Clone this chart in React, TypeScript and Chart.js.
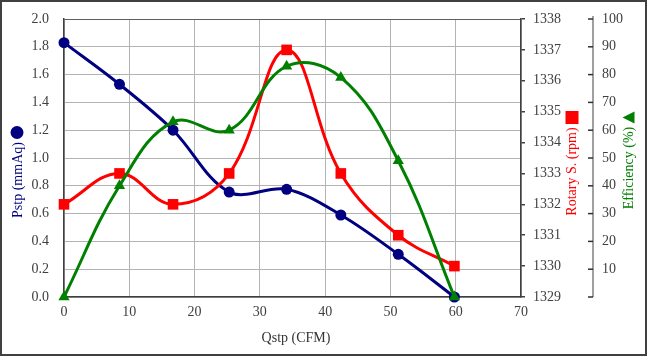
import { useEffect, useRef } from 'react';
import { Chart, registerables } from 'chart.js';

Chart.register(...registerables);

// ---- data ----
const qstp = [0, 8.5, 16.7, 25.3, 34.1, 42.4, 51.2, 59.8];
const pstp = [1.83, 1.53, 1.2, 0.755, 0.775, 0.59, 0.307, 0.0];
const rotary = [1332, 1333, 1332, 1333, 1337, 1333, 1331, 1330];
const efficiency = [0, 40, 63, 60, 83, 79, 49, 0];

const xTitle = 'Qstp (CFM)';
const pstpTitle = 'Pstp (mmAq)';
const rotaryTitle = 'Rotary S. (rpm)';
const effTitle = 'Efficiency (%)';

const FONT = '"Liberation Serif", "Times New Roman", serif';
const TICK_COLOR = '#404040';
const GRID_COLOR = '#b3b3b3';
const AXIS_COLOR = '#404040';
const BLUE = '#000080';
const RED = '#ff0000';
const GREEN = '#008000';

function vText(ctx: CanvasRenderingContext2D, text: string, x: number, cy: number, color: string) {
  ctx.save();
  ctx.translate(x, cy);
  ctx.rotate(-Math.PI / 2);
  ctx.fillStyle = color;
  ctx.textAlign = 'center';
  ctx.textBaseline = 'middle';
  ctx.fillText(text, 0, 0);
  ctx.restore();
}

const decorPlugin = {
  id: 'decor',
  afterDraw(chart: any) {
    const ctx: CanvasRenderingContext2D = chart.ctx;
    const y3 = chart.scales.y3;
    ctx.save();
    // efficiency axis line + inward ticks
    const ax = 593;
    ctx.strokeStyle = '#808080';
    ctx.lineWidth = 1.5;
    ctx.beginPath();
    ctx.moveTo(ax, y3.getPixelForValue(100) - 3);
    ctx.lineTo(ax, y3.getPixelForValue(0));
    ctx.stroke();
    ctx.strokeStyle = '#303030';
    ctx.lineWidth = 1.5;
    y3.ticks.forEach((t: any) => {
      const py = y3.getPixelForValue(t.value);
      ctx.beginPath();
      ctx.moveTo(ax - 5, py);
      ctx.lineTo(ax, py);
      ctx.stroke();
    });

    // titles
    ctx.font = `14px ${FONT}`;
    ctx.fillStyle = '#333333';
    ctx.textAlign = 'center';
    ctx.textBaseline = 'middle';
    ctx.fillText(xTitle, 296, 338);

    vText(ctx, pstpTitle, 18, 180, BLUE);
    ctx.fillStyle = BLUE;
    ctx.beginPath();
    ctx.arc(17, 132.5, 6.5, 0, Math.PI * 2);
    ctx.fill();

    vText(ctx, rotaryTitle, 572, 171.5, RED);
    ctx.fillStyle = RED;
    ctx.fillRect(565.5, 111, 13, 13);

    vText(ctx, effTitle, 629, 168, GREEN);
    ctx.fillStyle = GREEN;
    ctx.beginPath();
    ctx.moveTo(622.5, 117.5);
    ctx.lineTo(634.5, 111.5);
    ctx.lineTo(634.5, 123.5);
    ctx.closePath();
    ctx.fill();

    // outer frame
    ctx.strokeStyle = '#404040';
    ctx.lineWidth = 2;
    ctx.strokeRect(1, 1, 645, 354);
    ctx.restore();
  },
};

const fitV = (w: number) => (s: any) => {
  s.width = w;
  s.paddingTop = 0;
  s.paddingBottom = 0;
};

export default function App() {
  const ref = useRef<HTMLCanvasElement>(null);

  useEffect(() => {
    if (!ref.current) return;
    const tickFont = { family: FONT, size: 14 };
    const chart = new Chart(ref.current, {
      type: 'line',
      data: {
        datasets: [
          {
            label: 'Pstp',
            data: qstp.map((x, i) => ({ x, y: pstp[i] })),
            yAxisID: 'y',
            borderColor: BLUE,
            backgroundColor: BLUE,
            borderWidth: 3,
            pointStyle: 'circle',
            pointRadius: 5.5,
            pointBorderWidth: 0,
            tension: 0.35,
            clip: false,
            order: 2,
          },
          {
            label: 'Rotary',
            data: qstp.map((x, i) => ({ x, y: rotary[i] })),
            yAxisID: 'y2',
            borderColor: RED,
            backgroundColor: RED,
            borderWidth: 3,
            pointStyle: 'rect',
            pointRadius: 7.5,
            pointBorderWidth: 0,
            tension: 0.4,
            clip: false,
            order: 1,
          },
          {
            label: 'Efficiency',
            data: qstp.map((x, i) => ({ x, y: efficiency[i] })),
            yAxisID: 'y3',
            borderColor: GREEN,
            backgroundColor: GREEN,
            borderWidth: 3,
            pointStyle: 'triangle',
            pointRadius: 6.5,
            pointBorderWidth: 0,
            tension: 0.4,
            clip: false,
            order: 0,
          },
        ],
      },
      options: {
        responsive: false,
        animation: false,
        layout: { padding: { top: 19, left: 0, right: 0, bottom: 0 } },
        plugins: { legend: { display: false }, tooltip: { enabled: false } },
        scales: {
          x: {
            type: 'linear',
            min: 0,
            max: 70,
            ticks: { stepSize: 10, font: tickFont, color: TICK_COLOR, padding: 7, maxRotation: 0 },
            grid: { color: GRID_COLOR, drawTicks: false, lineWidth: 1 },
            border: { color: AXIS_COLOR, width: 1.5 },
            afterFit: (s: any) => { s.height = 59; s.paddingLeft = 0; s.paddingRight = 0; },
          },
          y: {
            position: 'left',
            min: 0,
            max: 2,
            ticks: { stepSize: 0.2, font: tickFont, color: TICK_COLOR, padding: 15, callback: (v: any) => Number(v).toFixed(1) },
            grid: {
              color: (c: any) => (c.tick && Math.abs(c.tick.value - 2) < 1e-6 ? '#606060' : GRID_COLOR),
              drawTicks: false,
              lineWidth: 1,
            },
            border: { color: AXIS_COLOR, width: 1.5 },
            afterFit: fitV(64),
          },
          y2: {
            position: 'right',
            min: 1329,
            max: 1338,
            ticks: { stepSize: 1, font: tickFont, color: TICK_COLOR, padding: 8, callback: (v: any) => String(Math.round(Number(v))) },
            grid: { drawOnChartArea: false, drawTicks: true, tickLength: 4, color: AXIS_COLOR, lineWidth: 1.5 },
            border: { color: AXIS_COLOR, width: 1.5 },
            afterFit: fitV(64),
          },
          y3: {
            position: 'right',
            min: 0,
            max: 100,
            ticks: { stepSize: 10, font: tickFont, color: TICK_COLOR, padding: 17, callback: (v: any) => (Number(v) === 0 ? '' : String(v)) },
            grid: { display: false, drawOnChartArea: false, drawTicks: false },
            border: { display: false },
            afterFit: fitV(62),
          },
        },
      },
      plugins: [decorPlugin],
    } as any);
    return () => chart.destroy();
  }, []);

  return (
    <div style={{ position: 'absolute', left: 0, top: 0, width: 647, height: 356, background: '#fff' }}>
      <canvas ref={ref} width={647} height={356} style={{ display: 'block' }} />
    </div>
  );
}
